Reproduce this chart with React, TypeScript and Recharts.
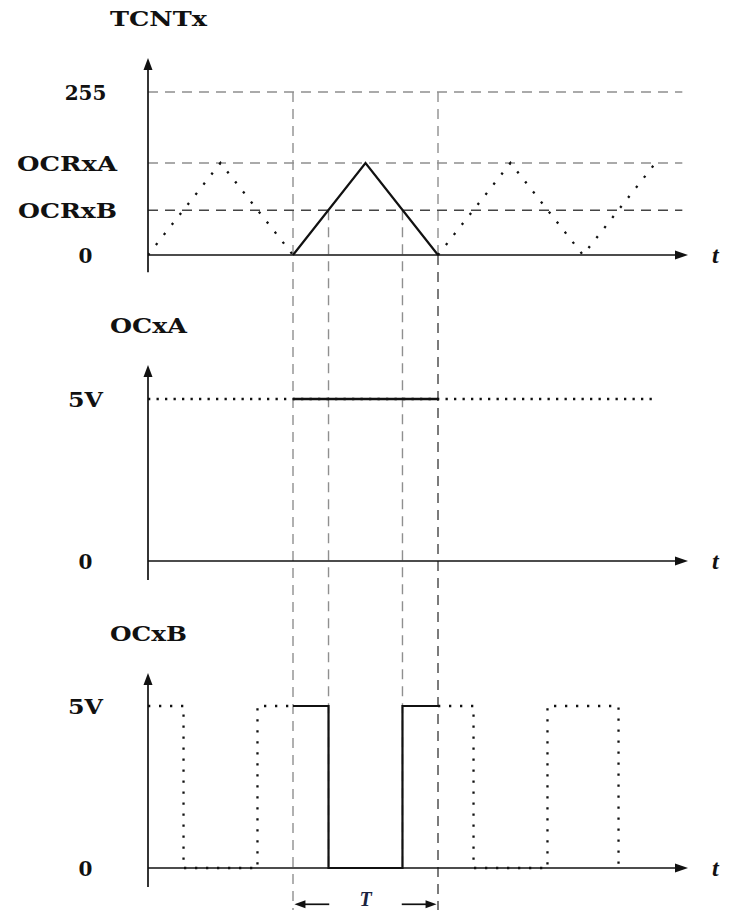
import React from 'react';
import { LineChart, Line, XAxis, YAxis, ReferenceLine, ReferenceDot } from 'recharts';

// ---------------- data ----------------
const TOP = 255;
const OCRXA = 144;
const OCRXB = 70;
const VHIGH = 5;

const tcTickValues = [0, OCRXB, OCRXA, TOP];
const tcTickLabels = ['0', 'OCRxB', 'OCRxA', '255'];
const voltTickValues = [0, VHIGH];
const voltTickLabels = ['0', '5V'];
const panelTitles = ['TCNTx', 'OCxA', 'OCxB'];
const axisName = 't';
const periodName = 'T';

// counter (triangle) waveform
const tcntDotted1 = [{ t: 0, v: 0 }, { t: 1, v: OCRXA }, { t: 2, v: 0 }];
const tcntSolid = [{ t: 2, v: 0 }, { t: 3, v: OCRXA }, { t: 4, v: 0 }];
const tcntDotted2 = [{ t: 4, v: 0 }, { t: 5, v: OCRXA }, { t: 6, v: 0 }, { t: 7, v: OCRXA }];

// OCxA output
const ocxaDotted = [{ t: 0, v: VHIGH }, { t: 7, v: VHIGH }];
const ocxaSolid = [{ t: 2, v: VHIGH }, { t: 4, v: VHIGH }];

// OCxB output
const ocxbDotted1 = [
  { t: 0, v: VHIGH }, { t: 0.49, v: VHIGH }, { t: 0.49, v: 0 },
  { t: 1.51, v: 0 }, { t: 1.51, v: VHIGH }, { t: 2, v: VHIGH },
];
const ocxbSolid = [
  { t: 2, v: VHIGH }, { t: 2.49, v: VHIGH }, { t: 2.49, v: 0 },
  { t: 3.51, v: 0 }, { t: 3.51, v: VHIGH }, { t: 4, v: VHIGH },
];
const ocxbDotted2 = [
  { t: 4, v: VHIGH }, { t: 4.49, v: VHIGH }, { t: 4.49, v: 0 },
  { t: 5.51, v: 0 }, { t: 5.51, v: VHIGH }, { t: 6.49, v: VHIGH }, { t: 6.49, v: 0 },
];

const PERIOD_START = 2;
const PERIOD_END = 4;
const EDGE_DOWN = 2.49;
const EDGE_UP = 3.51;
const GUIDE_END = 7.37;

// ---------------- layout ----------------
const W = 733;
const H = 912;
const LEFT = 148;
const AXIS_RIGHT = 688;
const PX_PER_T = 72.5;
const XMAX = (AXIS_RIGHT - LEFT) / PX_PER_T;

function makeDomain(v0: number, px0: number, v1: number, px1: number): [number, number] {
  const s = (px0 - px1) / (v1 - v0);
  return [v0 - (H - px0) / s, v1 + px1 / s];
}
const tcDomain = makeDomain(0, 255, TOP, 92);
const oaDomain = makeDomain(0, 561, VHIGH, 399);
const obDomain = makeDomain(0, 868, VHIGH, 706);

function obToTc(v: number) {
  return tcDomain[0] + ((v - obDomain[0]) / (obDomain[1] - obDomain[0])) * (tcDomain[1] - tcDomain[0]);
}

const TC_AXIS: [number, number] = [-27, 308];
const OA_AXIS: [number, number] = [-0.59, 6.05];
const OB_AXIS: [number, number] = [-0.59, 6.02];
const T_ARROW_LEVEL = -1.12;
const GUIDE_BOTTOM = -1.3;

const INK = '#111';
const GRAY = '#8f8f8f';
const DARKDASH = '#444';
const FONT = "'DejaVu Serif', serif";

// ---------------- shapes ----------------
function arrowShape(len: number, half: number, label?: string) {
  return (p: any) => {
    const { x1, y1, x2, y2 } = p;
    const dx = x2 - x1;
    const dy = y2 - y1;
    const l = Math.hypot(dx, dy) || 1;
    const ux = dx / l;
    const uy = dy / l;
    const bx = x2 - ux * len;
    const by = y2 - uy * len;
    const pts = `${x2},${y2} ${bx - uy * half},${by + ux * half} ${bx + uy * half},${by - ux * half}`;
    return (
      <g>
        <line x1={x1} y1={y1} x2={bx + ux * 1} y2={by + uy * 1} stroke={INK} strokeWidth={1.7} />
        <polygon points={pts} fill={INK} />
        {label ? (
          <text x={x2 + 24} y={y2} dominantBaseline="central" fontFamily="'Liberation Serif', serif"
            fontStyle="italic" fontWeight={700} fontSize={24} fill={INK}>{label}</text>
        ) : null}
      </g>
    );
  };
}

function tickShape(text: string) {
  const isWord = text.length > 3;
  const widths: Record<string, number> = { OCRxA: 100, OCRxB: 99, '5V': 35 };
  return (p: any) => (
    <text
      x={isWord ? p.cx - 31 : p.cx - 62.5}
      y={p.cy + 1}
      textAnchor={isWord ? 'end' : 'middle'}
      dominantBaseline="central"
      fontFamily={FONT}
      fontWeight={700}
      fontSize={20}
      fill={INK}
      textLength={widths[text]}
      lengthAdjust={widths[text] ? 'spacingAndGlyphs' : undefined}
    >
      {text}
    </text>
  );
}

function titleShape(text: string, width: number) {
  return (p: any) => (
    <text x={p.cx - 38} y={p.cy - 39} dominantBaseline="central" fontFamily={FONT} fontWeight={700}
      fontSize={20} fill={INK} textLength={width} lengthAdjust="spacingAndGlyphs">{text}</text>
  );
}

function periodShape(text: string) {
  return (p: any) => (
    <text x={p.cx} y={p.cy - 5} textAnchor="middle" dominantBaseline="central" fontFamily="'Liberation Serif', serif"
      fontStyle="italic" fontWeight={700} fontSize={20} fill="#1a2340">{text}</text>
  );
}

const dotted = (dash: string) => ({ strokeDasharray: dash, strokeWidth: 2.3, stroke: INK });

export default function App() {
  return (
    <div style={{ position: 'absolute', left: 0, top: 0, width: W, height: H, background: '#fff' }}>
      <LineChart width={W} height={H} margin={{ top: 0, bottom: 0, left: LEFT, right: W - AXIS_RIGHT }}>
        <XAxis type="number" dataKey="t" domain={[0, XMAX]} allowDataOverflow hide />
        <YAxis yAxisId="tc" type="number" domain={tcDomain} allowDataOverflow hide />
        <YAxis yAxisId="oa" type="number" domain={oaDomain} allowDataOverflow hide />
        <YAxis yAxisId="ob" type="number" domain={obDomain} allowDataOverflow hide />

        {/* horizontal guides (top panel) */}
        <ReferenceLine yAxisId="tc" ifOverflow="visible" segment={[{ x: 0, y: TOP }, { x: GUIDE_END, y: TOP }]}
          stroke={GRAY} strokeWidth={1.4} strokeDasharray="10 7" />
        <ReferenceLine yAxisId="tc" ifOverflow="visible" segment={[{ x: 0, y: OCRXA }, { x: GUIDE_END, y: OCRXA }]}
          stroke={GRAY} strokeWidth={1.4} strokeDasharray="10 7" />
        <ReferenceLine yAxisId="tc" ifOverflow="visible" segment={[{ x: 0, y: OCRXB }, { x: GUIDE_END, y: OCRXB }]}
          stroke={DARKDASH} strokeWidth={1.4} strokeDasharray="10 7" />

        {/* vertical guides */}
        <ReferenceLine yAxisId="tc" ifOverflow="visible"
          segment={[{ x: PERIOD_START, y: TOP }, { x: PERIOD_START, y: obToTc(GUIDE_BOTTOM) }]}
          stroke={GRAY} strokeWidth={1.4} strokeDasharray="10 7" />
        <ReferenceLine yAxisId="tc" ifOverflow="visible"
          segment={[{ x: PERIOD_END, y: TOP }, { x: PERIOD_END, y: 0 }]}
          stroke={GRAY} strokeWidth={1.4} strokeDasharray="10 7" />
        <ReferenceLine yAxisId="tc" ifOverflow="visible"
          segment={[{ x: PERIOD_END, y: 0 }, { x: PERIOD_END, y: obToTc(GUIDE_BOTTOM) }]}
          stroke={DARKDASH} strokeWidth={1.4} strokeDasharray="10 7" />
        <ReferenceLine yAxisId="tc" ifOverflow="visible"
          segment={[{ x: EDGE_DOWN, y: OCRXB }, { x: EDGE_DOWN, y: obToTc(0) }]}
          stroke={GRAY} strokeWidth={1.4} strokeDasharray="10 7" />
        <ReferenceLine yAxisId="tc" ifOverflow="visible"
          segment={[{ x: EDGE_UP, y: OCRXB }, { x: EDGE_UP, y: obToTc(0) }]}
          stroke={GRAY} strokeWidth={1.4} strokeDasharray="10 7" />

        {/* signals */}
        <Line yAxisId="tc" data={tcntDotted1} dataKey="v" type="linear" dot={false} activeDot={false}
          isAnimationActive={false} {...dotted('2.3 10.5')} />
        <Line yAxisId="tc" data={tcntDotted2} dataKey="v" type="linear" dot={false} activeDot={false}
          isAnimationActive={false} {...dotted('2.3 10.5')} />
        <Line yAxisId="tc" data={tcntSolid} dataKey="v" type="linear" dot={false} activeDot={false}
          isAnimationActive={false} stroke={INK} strokeWidth={2.2} />

        <Line yAxisId="oa" data={ocxaDotted} dataKey="v" type="linear" dot={false} activeDot={false}
          isAnimationActive={false} {...dotted('2.3 6.2')} />
        <Line yAxisId="oa" data={ocxaSolid} dataKey="v" type="linear" dot={false} activeDot={false}
          isAnimationActive={false} stroke={INK} strokeWidth={2.4} />

        <Line yAxisId="ob" data={ocxbDotted1} dataKey="v" type="linear" dot={false} activeDot={false}
          isAnimationActive={false} {...dotted('2.3 8.7')} />
        <Line yAxisId="ob" data={ocxbDotted2} dataKey="v" type="linear" dot={false} activeDot={false}
          isAnimationActive={false} {...dotted('2.3 8.7')} />
        <Line yAxisId="ob" data={ocxbSolid} dataKey="v" type="linear" dot={false} activeDot={false}
          isAnimationActive={false} stroke={INK} strokeWidth={2.2} />

        {/* axes with arrows */}
        <ReferenceLine yAxisId="tc" ifOverflow="visible" segment={[{ x: 0, y: 0 }, { x: XMAX, y: 0 }]}
          shape={arrowShape(13, 4.5, axisName)} />
        <ReferenceLine yAxisId="tc" ifOverflow="visible" segment={[{ x: 0, y: TC_AXIS[0] }, { x: 0, y: TC_AXIS[1] }]}
          shape={arrowShape(12, 4.5)} />
        <ReferenceLine yAxisId="oa" ifOverflow="visible" segment={[{ x: 0, y: 0 }, { x: XMAX, y: 0 }]}
          shape={arrowShape(13, 4.5, axisName)} />
        <ReferenceLine yAxisId="oa" ifOverflow="visible" segment={[{ x: 0, y: OA_AXIS[0] }, { x: 0, y: OA_AXIS[1] }]}
          shape={arrowShape(12, 4.5)} />
        <ReferenceLine yAxisId="ob" ifOverflow="visible" segment={[{ x: 0, y: 0 }, { x: XMAX, y: 0 }]}
          shape={arrowShape(13, 4.5, axisName)} />
        <ReferenceLine yAxisId="ob" ifOverflow="visible" segment={[{ x: 0, y: OB_AXIS[0] }, { x: 0, y: OB_AXIS[1] }]}
          shape={arrowShape(12, 4.5)} />

        {/* period arrows */}
        <ReferenceLine yAxisId="ob" ifOverflow="visible"
          segment={[{ x: 2.5, y: T_ARROW_LEVEL }, { x: PERIOD_START + 0.02, y: T_ARROW_LEVEL }]}
          shape={arrowShape(11, 4)} />
        <ReferenceLine yAxisId="ob" ifOverflow="visible"
          segment={[{ x: 3.5, y: T_ARROW_LEVEL }, { x: PERIOD_END - 0.02, y: T_ARROW_LEVEL }]}
          shape={arrowShape(11, 4)} />
        <ReferenceDot yAxisId="ob" ifOverflow="visible" x={(PERIOD_START + PERIOD_END) / 2} y={T_ARROW_LEVEL}
          shape={periodShape(periodName)} />

        {/* tick labels */}
        {tcTickValues.map((v, i) => (
          <ReferenceDot key={'tc' + i} yAxisId="tc" ifOverflow="visible" x={0} y={v} shape={tickShape(tcTickLabels[i])} />
        ))}
        {voltTickValues.map((v, i) => (
          <ReferenceDot key={'oa' + i} yAxisId="oa" ifOverflow="visible" x={0} y={v} shape={tickShape(voltTickLabels[i])} />
        ))}
        {voltTickValues.map((v, i) => (
          <ReferenceDot key={'ob' + i} yAxisId="ob" ifOverflow="visible" x={0} y={v} shape={tickShape(voltTickLabels[i])} />
        ))}

        {/* panel titles */}
        <ReferenceDot yAxisId="tc" ifOverflow="visible" x={0} y={TC_AXIS[1]} shape={titleShape(panelTitles[0], 97)} />
        <ReferenceDot yAxisId="oa" ifOverflow="visible" x={0} y={OA_AXIS[1]} shape={titleShape(panelTitles[1], 77)} />
        <ReferenceDot yAxisId="ob" ifOverflow="visible" x={0} y={OB_AXIS[1]} shape={titleShape(panelTitles[2], 77)} />
      </LineChart>
    </div>
  );
}
